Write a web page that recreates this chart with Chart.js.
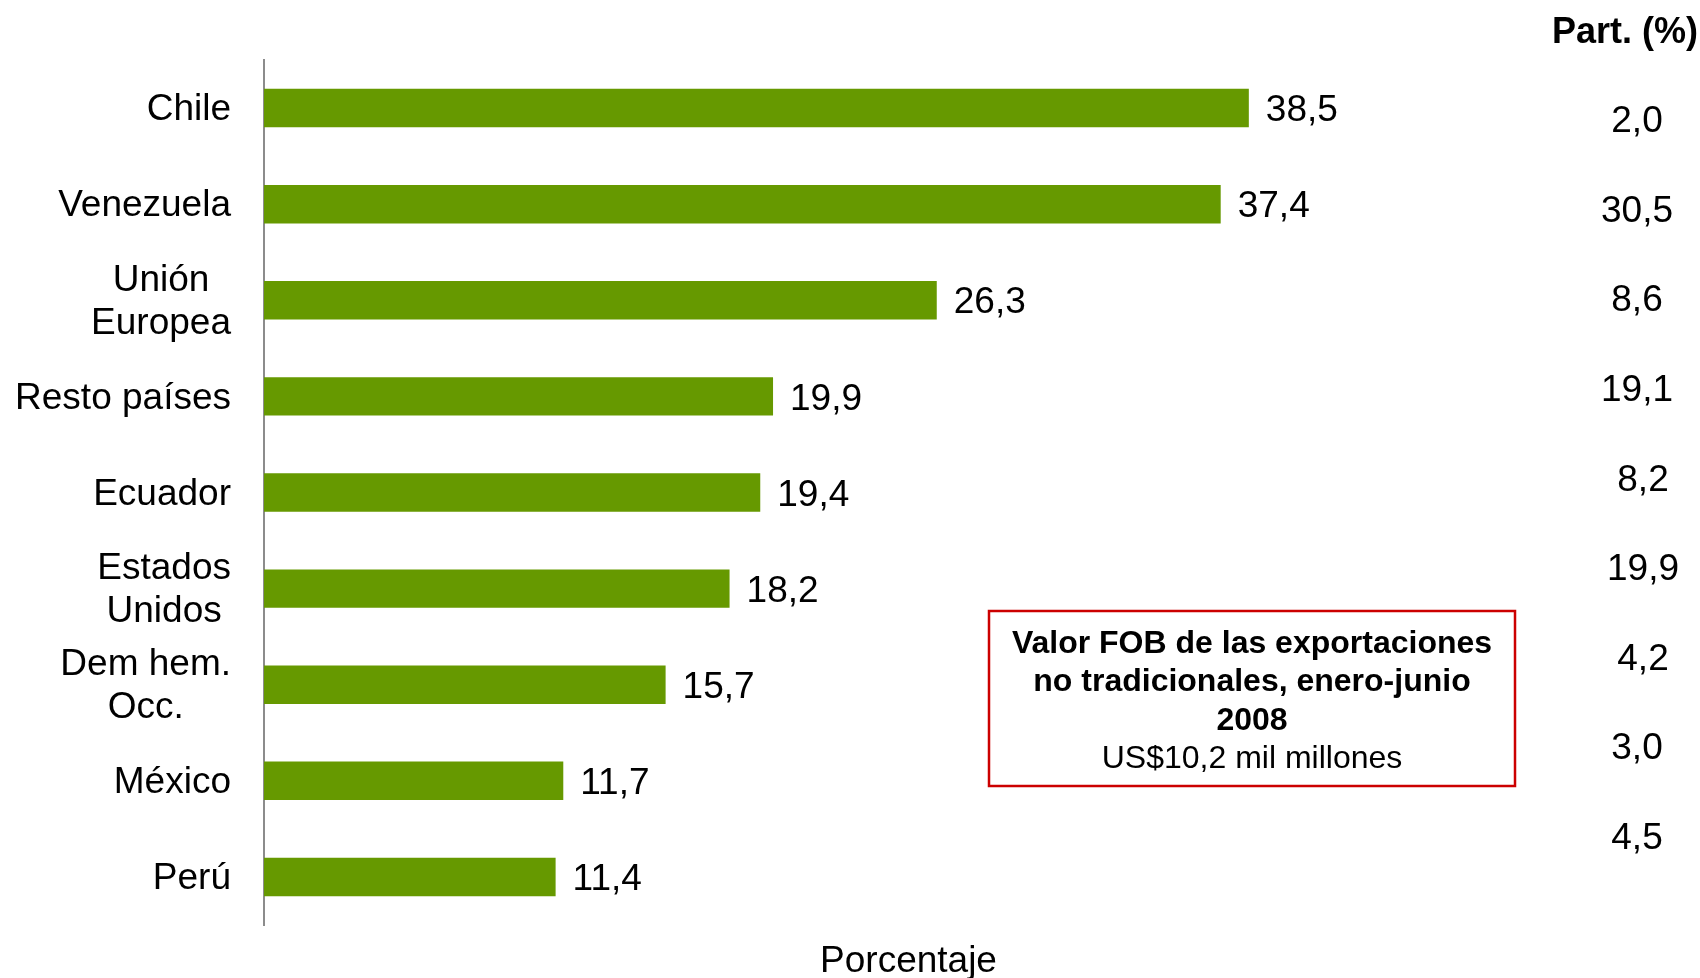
<!DOCTYPE html>
<html lang="es">
<head>
<meta charset="utf-8">
<title>Exportaciones no tradicionales por destino</title>
<script src="https://cdn.jsdelivr.net/npm/chart.js@4/dist/chart.umd.min.js"></script>
<style>
  html, body { margin: 0; padding: 0; background: #fff; }
  #wrap { position: relative; width: 1700px; height: 978px; }
</style>
</head>
<body>
<div id="wrap"><canvas id="chartDestinos"></canvas></div>
<script>
// datos
const paises = [["Chile"], ["Venezuela"], ["Unión", "Europea"], ["Resto países"], ["Ecuador"],
  ["Estados", "Unidos"], ["Dem hem.", "Occ."], ["México"], ["Perú"]];
const variacion = [38.5, 37.4, 26.3, 19.9, 19.4, 18.2, 15.7, 11.7, 11.4];
const participacion = [2.0, 30.5, 8.6, 19.1, 8.2, 19.9, 4.2, 3.0, 4.5];
const tituloPart = "Part. (%)";
const tituloEje = "Porcentaje";
const recuadro = ["Valor FOB de las exportaciones", "no tradicionales, enero-junio", "2008"];
const recuadroSub = "US$10,2 mil millones";

const FONT = '"Liberation Sans", Arial, sans-serif';
const VERDE = "#669900";

const fmt = v => v.toFixed(1).replace(".", ",");

// etiquetas de categoria, valores, columna de participacion y recuadro
const extras = {
  id: "extras",
  afterDatasetsDraw(chart) {
    const { ctx, chartArea, scales } = chart;
    const y = scales.y;
    ctx.save();
    ctx.fillStyle = "#000";
    ctx.textBaseline = "middle";

    // categorias: bloque alineado a la derecha, lineas centradas
    ctx.font = "37px " + FONT;
    const right = chartArea.left - 33;
    paises.forEach((lines, i) => {
      const cy = y.getPixelForValue(i) + 2;
      const maxW = Math.max(...lines.map(l => ctx.measureText(l).width));
      const cx = right - maxW / 2;
      ctx.textAlign = "center";
      lines.forEach((l, j) => {
        ctx.fillText(l, cx, cy + (j - (lines.length - 1) / 2) * 43);
      });
    });

    // valores al final de cada barra
    ctx.textAlign = "left";
    const meta = chart.getDatasetMeta(0);
    meta.data.forEach((bar, i) => {
      ctx.fillText(fmt(variacion[i]), bar.x + 17, bar.y + 3);
    });

    // columna de participacion
    ctx.font = "bold 36px " + FONT;
    ctx.textAlign = "right";
    ctx.fillText(tituloPart, 1698, 33);
    ctx.font = "37px " + FONT;
    ctx.textAlign = "center";
    participacion.forEach((v, i) => {
      const px = (i >= 4 && i <= 6) ? 1643 : 1637;
      ctx.fillText(fmt(v), px, 122 + i * 89.6);
    });

    // titulo del eje
    ctx.fillText(tituloEje, (chartArea.left + chartArea.right) / 2 + 5, 962);

    // recuadro
    ctx.strokeStyle = "#cc0000";
    ctx.lineWidth = 2.5;
    ctx.strokeRect(989, 611, 526, 175);
    const bx = 989 + 526 / 2;
    ctx.font = "bold 32px " + FONT;
    recuadro.forEach((l, j) => ctx.fillText(l, bx, 644 + j * 38.5));
    ctx.font = "32px " + FONT;
    ctx.fillText(recuadroSub, bx, 644 + 3 * 38.5);
    ctx.restore();
  }
};

new Chart(document.getElementById("chartDestinos"), {
  type: "bar",
  data: {
    labels: paises.map(l => l.join(" ")),
    datasets: [{
      data: variacion,
      backgroundColor: VERDE,
      borderWidth: 0,
      barPercentage: 0.4,
      categoryPercentage: 1
    }]
  },
  options: {
    indexAxis: "y",
    responsive: true,
    maintainAspectRatio: false,
    animation: false,
    layout: { padding: { top: 60, bottom: 53, right: 157, left: 0 } },
    plugins: { legend: { display: false }, tooltip: { enabled: false } },
    scales: {
      x: { display: false, min: 0, max: 50 },
      y: {
        grid: { display: false },
        ticks: { display: false },
        border: { display: true, color: "#8c8c8c", width: 2 },
        afterFit: s => { s.width = 264; }
      }
    }
  },
  plugins: [extras]
});
</script>
</body>
</html>
